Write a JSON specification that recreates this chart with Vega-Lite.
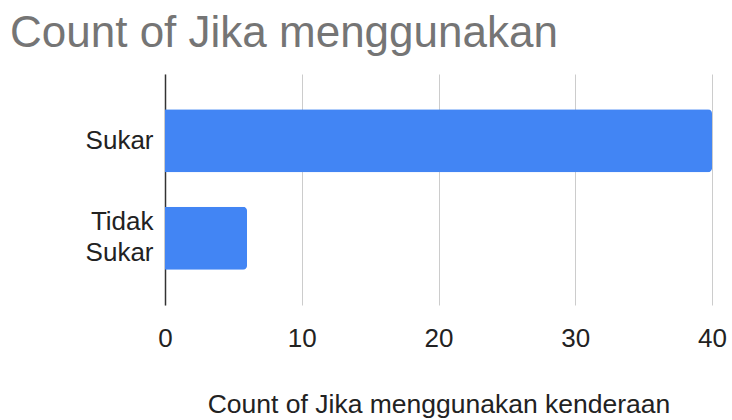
{
  "$schema": "https://vega.github.io/schema/vega-lite/v6.json",
  "autosize": "none",
  "width": 547,
  "height": 231,
  "padding": {"left": 165, "top": 74, "right": 20, "bottom": 115},
  "background": "white",
  "title": {
    "text": "Count of Jika menggunakan",
    "anchor": "start",
    "frame": "group",
    "dx": -155,
    "dy": 45,
    "baseline": "alphabetic",
    "offset": 28,
    "font": "Liberation Sans",
    "fontSize": 44,
    "fontWeight": "normal",
    "color": "#757575"
  },
  "data": {
    "values": [
      {"kategori": "Sukar", "count": 40},
      {"kategori": "Tidak Sukar", "count": 6}
    ]
  },
  "mark": {"type": "bar", "color": "#4285F4", "cornerRadiusEnd": 4},
  "encoding": {
    "y": {
      "field": "kategori",
      "type": "nominal",
      "sort": ["Sukar", "Tidak Sukar"],
      "scale": {"paddingInner": 0.354, "paddingOuter": 0.36},
      "axis": {
        "title": null,
        "ticks": false,
        "domain": true,
        "domainColor": "#333333",
        "domainWidth": 1.5,
        "labelPadding": 12,
        "labelFont": "Liberation Sans",
        "labelFontSize": 26,
        "labelColor": "#222222",
        "labelLineHeight": 31,
        "labelOffset": {"condition": {"test": "datum.value == 'Tidak Sukar'", "value": -16}, "value": 0},
        "labelExpr": "datum.label == 'Tidak Sukar' ? ['Tidak', 'Sukar'] : datum.label"
      }
    },
    "x": {
      "field": "count",
      "type": "quantitative",
      "scale": {"domain": [0, 40], "nice": false},
      "axis": {
        "title": "Count of Jika menggunakan kenderaan",
        "values": [0, 10, 20, 30, 40],
        "domain": false,
        "ticks": false,
        "grid": true,
        "gridColor": "#cccccc",
        "gridWidth": 1,
        "labelFlush": false,
        "labelPadding": 20,
        "labelFont": "Liberation Sans",
        "labelFontSize": 26,
        "labelColor": "#222222",
        "titleFont": "Liberation Sans",
        "titleFontSize": 26.5,
        "titleFontWeight": "normal",
        "titleColor": "#222222",
        "titlePadding": 40
      }
    }
  },
  "config": {"view": {"stroke": null}}
}
